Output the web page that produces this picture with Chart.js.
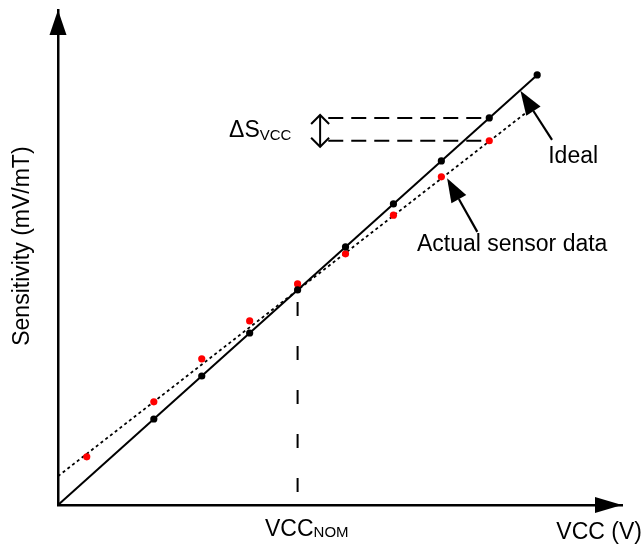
<!DOCTYPE html>
<html><head><meta charset="utf-8">
<script src="https://cdn.jsdelivr.net/npm/chart.js@4/dist/chart.umd.min.js"></script>
<style>html,body{margin:0;padding:0;background:#fff}</style>
</head><body>
<canvas id="c" width="644" height="545"></canvas>
<script>
// ---- data (VCC in arbitrary steps, sensitivity in arbitrary units) ----
const idealVcc   = [2, 3, 4, 5, 6, 7, 8, 9, 10];
const idealSens  = [2, 3, 4, 5, 6, 7, 8, 9, 10];
const actualVcc  = [0.6, 2, 3, 4, 5, 6, 7, 8, 9];
const actualSens = [1.12, 2.40, 3.40, 4.28, 5.14, 5.84, 6.74, 7.63, 8.47];
const idealLineVcc  = [0, 10];
const idealLineSens = [0, 10];
const fitLineVcc    = [0, 9.8];
const fitLineSens   = [0.67, 9.15];
const vccNom = 5;
const nomLineSens = [4.72, 0];
const deltaVcc = [5.64, 9];
const deltaTopSens = 9;
const deltaBotSens = 8.47;
const xMax = 11.77, yMax = 11.51;

// annotation anchors (data units)
const idealArrow  = {tail:[10.31, 8.49], tip:[9.65, 9.63]};
const actualArrow = {tail:[8.75, 6.35],  tip:[8.12, 7.60]};
const deltaArrow  = {x:5.47, top:9.07, bottom:8.33};
const labels = {
  ideal:  {text:'Ideal', x:10.23, y:7.95},
  actual: {text:'Actual sensor data', x:7.49, y:5.91},
  delta:  {main:'\u0394S', sub:'VCC', x:3.57, y:8.56},
  nom:    {main:'VCC', sub:'NOM', x:4.32, y:-0.72},
  xTitle: {text:'VCC (V)', x:10.40, y:-0.79},
  yTitle: {text:'Sensitivity (mV/mT)', x:-0.73, y:6.02}
};

const pts = (xs, ys) => xs.map((v, i) => ({x: v, y: ys[i]}));
const FONT = '"Liberation Sans", Arial, sans-serif';

const annot = {
  id: 'annot',
  afterDraw(chart) {
    const {ctx, chartArea: A, scales: {x, y}} = chart;
    const px = v => x.getPixelForValue(v), py = v => y.getPixelForValue(v);
    ctx.save();
    ctx.fillStyle = '#000'; ctx.strokeStyle = '#000';
    // axis arrowheads
    ctx.beginPath(); ctx.moveTo(A.left, A.top); ctx.lineTo(A.left - 8.5, A.top + 25); ctx.lineTo(A.left + 8.5, A.top + 25); ctx.closePath(); ctx.fill();
    ctx.beginPath(); ctx.moveTo(A.right, A.bottom); ctx.lineTo(A.right - 27, A.bottom - 8); ctx.lineTo(A.right - 27, A.bottom + 8); ctx.closePath(); ctx.fill();
    // pointer arrows
    const arrow = (a) => {
      const x1 = px(a.tail[0]), y1 = py(a.tail[1]), x2 = px(a.tip[0]), y2 = py(a.tip[1]);
      const ang = Math.atan2(y2 - y1, x2 - x1), hl = 24, hw = 8.5;
      const bx = x2 - hl * Math.cos(ang), by = y2 - hl * Math.sin(ang);
      ctx.lineWidth = 2.2; ctx.setLineDash([]);
      ctx.beginPath(); ctx.moveTo(x1, y1); ctx.lineTo(bx, by); ctx.stroke();
      ctx.beginPath(); ctx.moveTo(x2, y2);
      ctx.lineTo(bx + hw * Math.sin(ang), by - hw * Math.cos(ang));
      ctx.lineTo(bx - hw * Math.sin(ang), by + hw * Math.cos(ang));
      ctx.closePath(); ctx.fill();
    };
    arrow(idealArrow); arrow(actualArrow);
    // double arrow
    const dx = px(deltaArrow.x), dt = py(deltaArrow.top), db = py(deltaArrow.bottom);
    ctx.lineWidth = 2;
    ctx.beginPath(); ctx.moveTo(dx, dt); ctx.lineTo(dx, db); ctx.stroke();
    ctx.beginPath(); ctx.moveTo(dx - 9, dt + 9); ctx.lineTo(dx, dt); ctx.lineTo(dx + 9, dt + 9); ctx.stroke();
    ctx.beginPath(); ctx.moveTo(dx - 9, db - 9); ctx.lineTo(dx, db); ctx.lineTo(dx + 9, db - 9); ctx.stroke();
    // texts
    ctx.textBaseline = 'alphabetic'; ctx.textAlign = 'left';
    const big = '23px ' + FONT, small = '15px ' + FONT;
    ctx.font = big;
    [labels.ideal, labels.actual, labels.xTitle].forEach(l => ctx.fillText(l.text, px(l.x), py(l.y)));
    [[labels.delta, 3], [labels.nom, 1]].forEach(([l, off]) => {
      ctx.font = big;
      const x0 = px(l.x), y0 = py(l.y);
      ctx.fillText(l.main, x0, y0);
      const w = ctx.measureText(l.main).width;
      ctx.font = small;
      ctx.fillText(l.sub, x0 + w, y0 + off);
    });
    ctx.font = big;
    ctx.translate(px(labels.yTitle.x), py(labels.yTitle.y));
    ctx.rotate(-Math.PI / 2);
    ctx.textAlign = 'center'; ctx.textBaseline = 'middle';
    ctx.fillText(labels.yTitle.text, 0, 0);
    ctx.restore();
  }
};

new Chart(document.getElementById('c'), {
  type: 'scatter',
  data: {
    datasets: [
      {data: pts(idealVcc, idealSens), pointRadius: 3.6, pointBackgroundColor: '#000', pointBorderWidth: 0, showLine: false},
      {data: pts(actualVcc, actualSens), pointRadius: 3.6, pointBackgroundColor: '#ff0000', pointBorderWidth: 0, showLine: false},
      {data: pts(idealLineVcc, idealLineSens), showLine: true, borderColor: '#000', borderWidth: 2, pointRadius: 0},
      {data: pts(fitLineVcc, fitLineSens), showLine: true, borderColor: '#000', borderWidth: 1.8, borderDash: [3, 3], pointRadius: 0},
      {data: pts(deltaVcc, [deltaTopSens, deltaTopSens]), showLine: true, borderColor: '#000', borderWidth: 2, borderDash: [15, 8], pointRadius: 0},
      {data: pts(deltaVcc, [deltaBotSens, deltaBotSens]), showLine: true, borderColor: '#000', borderWidth: 2, borderDash: [15, 8], pointRadius: 0},
      {data: pts([vccNom, vccNom], nomLineSens), showLine: true, borderColor: '#000', borderWidth: 2, borderDash: [14, 30], pointRadius: 0}
    ]
  },
  options: {
    responsive: false,
    animation: false,
    clip: false,
    layout: {padding: {left: 58, right: 22, top: 10, bottom: 40}},
    plugins: {legend: {display: false}, tooltip: {enabled: false}},
    scales: {
      x: {type: 'linear', min: 0, max: xMax, ticks: {display: false}, grid: {display: false, drawTicks: false, tickLength: 0}, border: {display: true, color: '#000', width: 2.5}},
      y: {type: 'linear', min: 0, max: yMax, ticks: {display: false}, grid: {display: false, drawTicks: false, tickLength: 0}, border: {display: true, color: '#000', width: 2.5}}
    }
  },
  plugins: [annot]
});
</script>
</body></html>
